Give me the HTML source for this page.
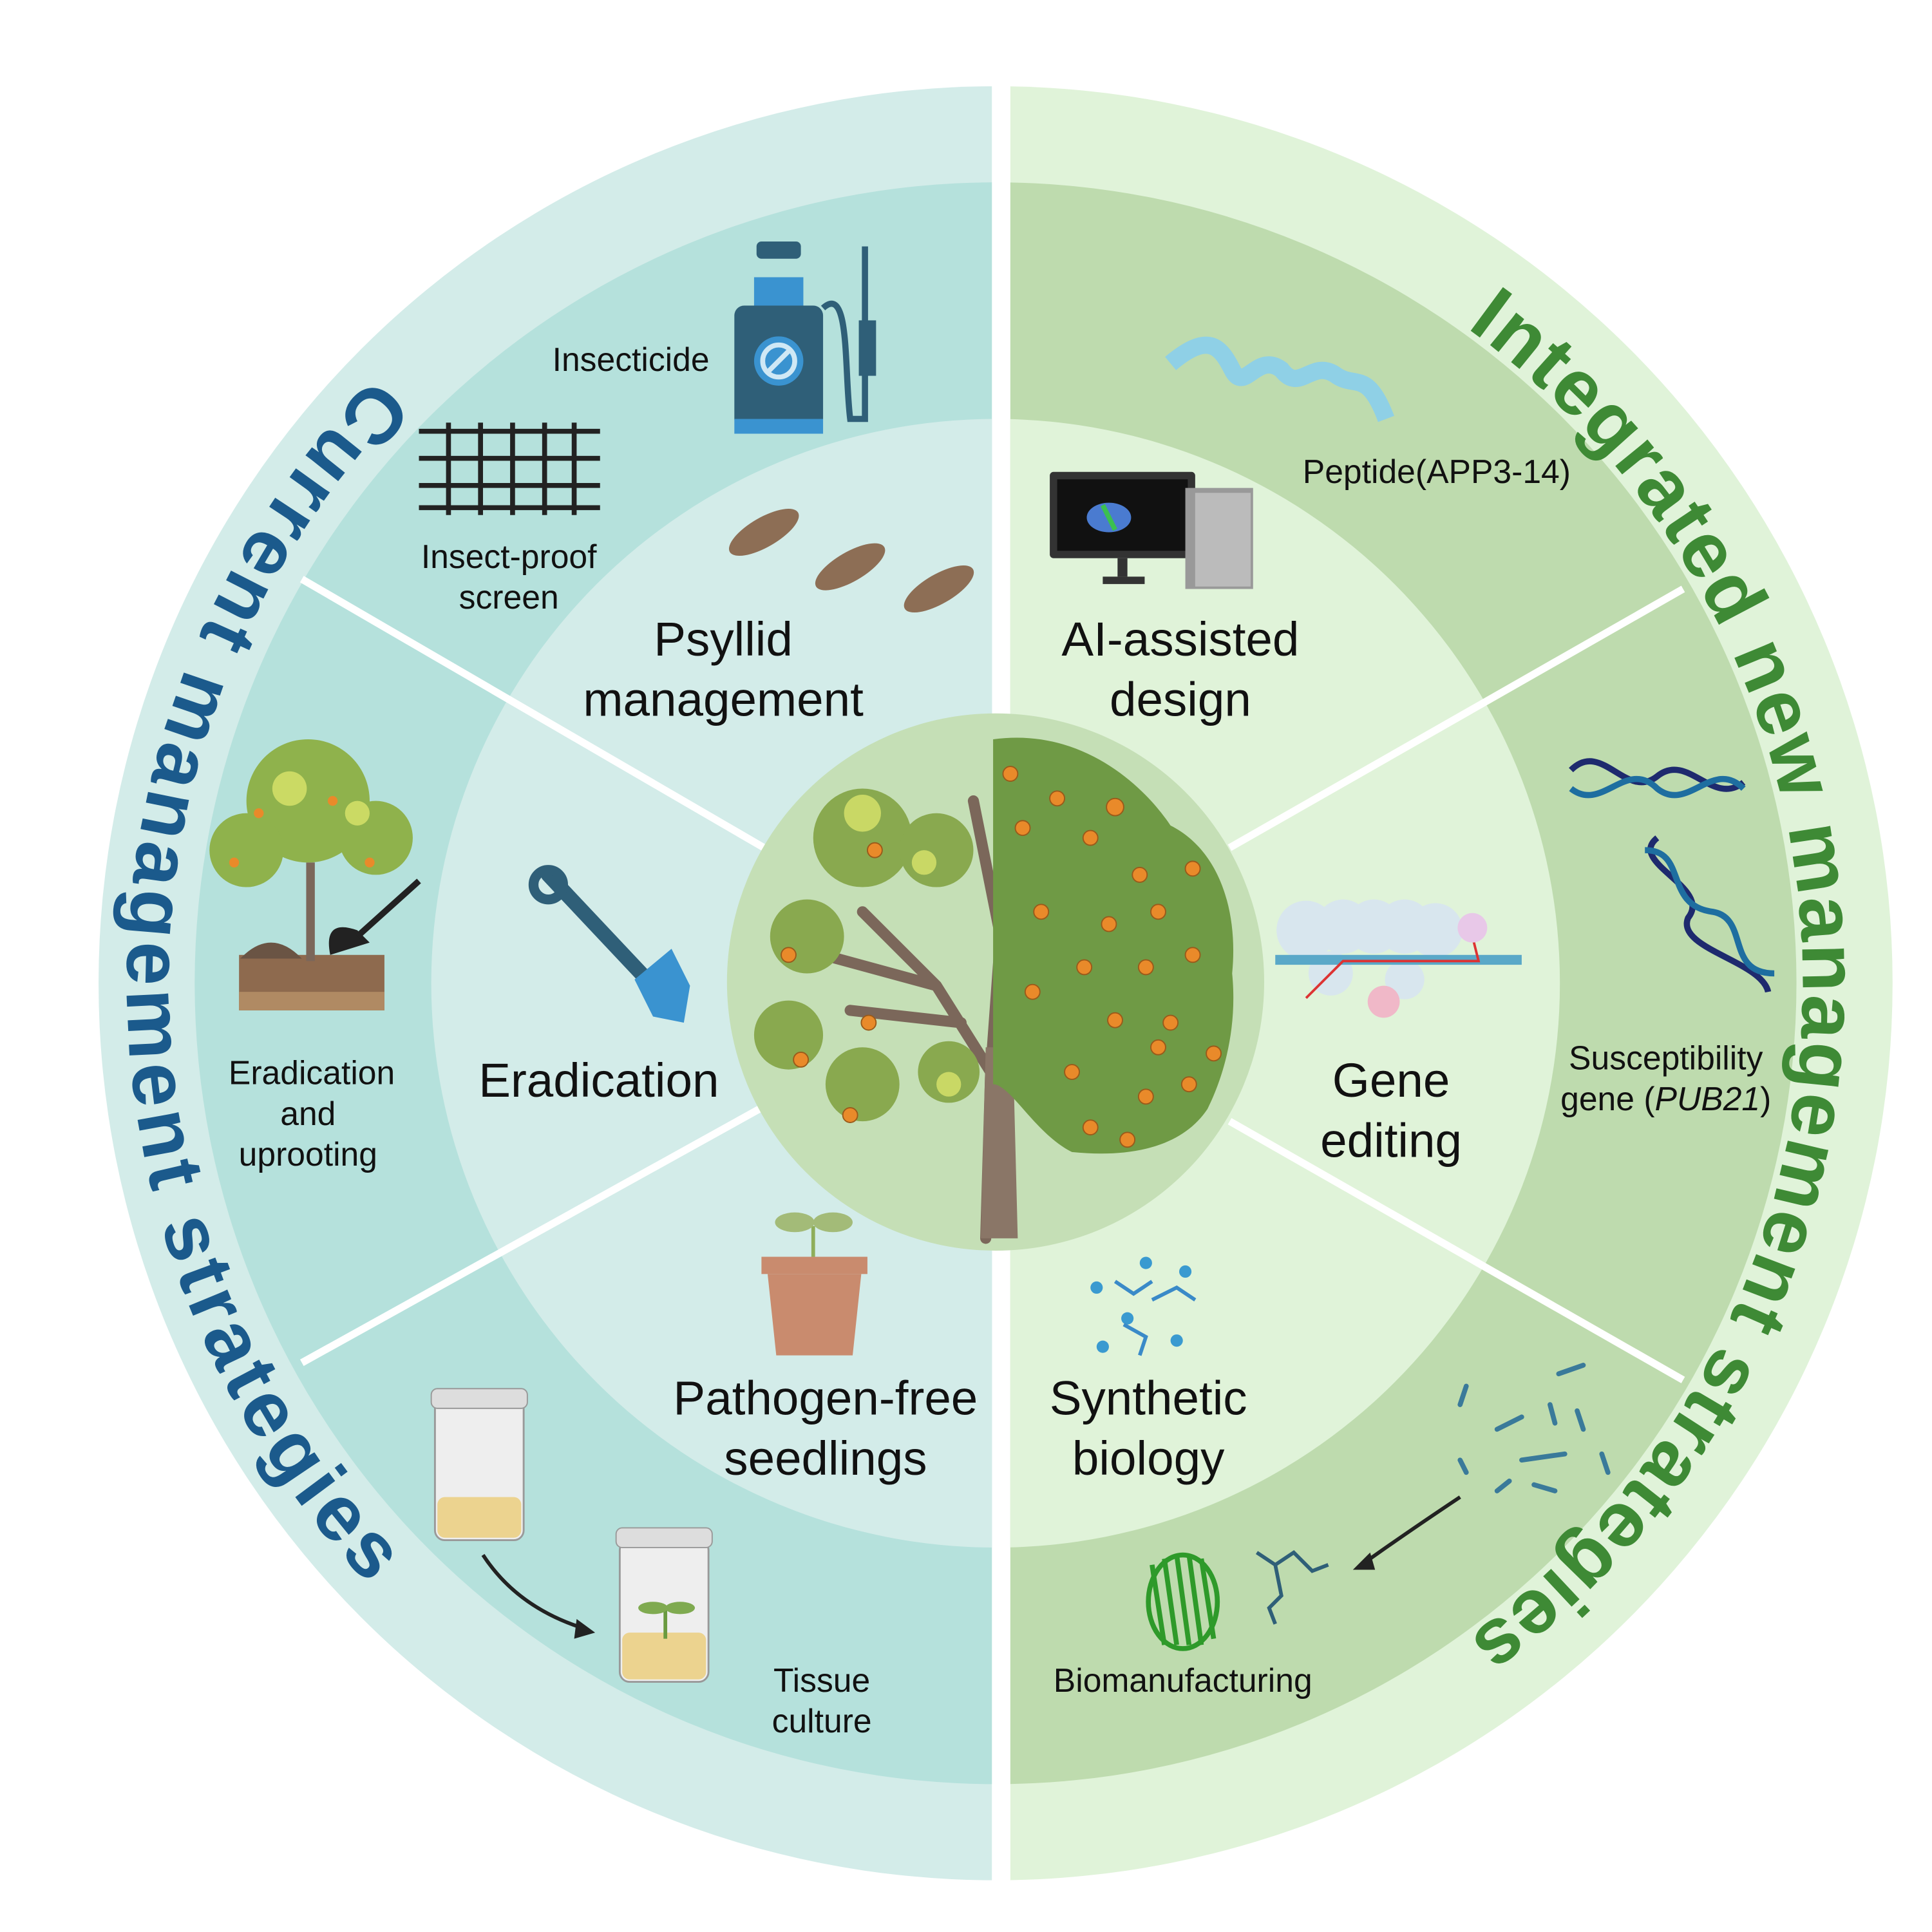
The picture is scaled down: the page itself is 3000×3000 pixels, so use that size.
<!DOCTYPE html>
<html><head><meta charset="utf-8"><style>
html,body{margin:0;padding:0;background:#fff}
svg{display:block}
text{font-family:"Liberation Sans",sans-serif}
</style></head><body>
<svg width="3000" height="3000" viewBox="0 0 1568 1568" xmlns="http://www.w3.org/2000/svg">
<defs>
<clipPath id="L"><rect x="0" y="0" width="805" height="1568"/></clipPath>
<clipPath id="R"><rect x="820" y="0" width="800" height="1568"/></clipPath>
<path id="lp" d="M309.5,299.5 A705,705 0 0 0 309.5,1296.5"/>
<path id="rp" d="M1183.7,261.4 A655,655 0 0 1 1183.7,1334.6"/>
</defs>
<rect width="1568" height="1568" fill="#fff"/>
<g clip-path="url(#L)">
<circle cx="808" cy="798" r="728" fill="#d3ece9"/>
<circle cx="808" cy="798" r="650" fill="#b5e1dc"/>
<circle cx="808" cy="798" r="458" fill="#d3ece9"/>
</g>
<g clip-path="url(#R)">
<circle cx="808" cy="798" r="728" fill="#e0f3d9"/>
<circle cx="808" cy="798" r="650" fill="#bedbae"/>
<circle cx="808" cy="798" r="458" fill="#e0f3d9"/>
</g>
<g stroke="#fff" stroke-width="6">
<line x1="245" y1="470" x2="620" y2="688"/>
<line x1="245" y1="1106" x2="620" y2="898"/>
<line x1="1366" y1="478" x2="998" y2="688"/>
<line x1="1366" y1="1120" x2="998" y2="910"/>
</g>
<circle cx="808" cy="797" r="218" fill="#c5dfb6"/>
<!-- tree -->
<g>
<path d="M800,1005 L804,870 L760,800 L700,740 M804,870 L812,760 L790,650 M812,760 L840,700 M780,830 L690,820 M760,800 L650,770" stroke="#7b675a" stroke-width="9" fill="none" stroke-linecap="round"/>
<path d="M796,1005 L800,850 L822,850 L826,1005 Z" fill="#8a7667"/>
<g fill="#89a94f">
<circle cx="700" cy="680" r="40"/><circle cx="655" cy="760" r="30"/><circle cx="640" cy="840" r="28"/><circle cx="700" cy="880" r="30"/><circle cx="760" cy="690" r="30"/><circle cx="770" cy="870" r="25"/>
</g>
<g fill="#d9e36a" opacity="0.8"><circle cx="700" cy="660" r="15"/><circle cx="770" cy="880" r="10"/><circle cx="750" cy="700" r="10"/></g>
<path d="M806,600 C880,590 930,640 950,670 C990,690 1005,740 1000,790 C1005,840 990,880 980,900 C960,930 920,940 870,935 C840,920 820,880 806,880 Z" fill="#6f9a45"/>
<g fill="#e98a2a" stroke="#9a5a1a" stroke-width="1">
<circle cx="820" cy="628" r="6"/><circle cx="858" cy="648" r="6"/><circle cx="905" cy="655" r="7"/><circle cx="885" cy="680" r="6"/><circle cx="830" cy="672" r="6"/><circle cx="968" cy="705" r="6"/><circle cx="925" cy="710" r="6"/><circle cx="845" cy="740" r="6"/><circle cx="900" cy="750" r="6"/><circle cx="940" cy="740" r="6"/><circle cx="968" cy="775" r="6"/><circle cx="880" cy="785" r="6"/><circle cx="838" cy="805" r="6"/><circle cx="930" cy="785" r="6"/><circle cx="950" cy="830" r="6"/><circle cx="985" cy="855" r="6"/><circle cx="940" cy="850" r="6"/><circle cx="905" cy="828" r="6"/><circle cx="870" cy="870" r="6"/><circle cx="965" cy="880" r="6"/><circle cx="930" cy="890" r="6"/><circle cx="885" cy="915" r="6"/><circle cx="915" cy="925" r="6"/><circle cx="710" cy="690" r="6"/><circle cx="640" cy="775" r="6"/><circle cx="705" cy="830" r="6"/><circle cx="650" cy="860" r="6"/><circle cx="690" cy="905" r="6"/>
</g>
</g>
<!-- left icons -->
<g>
<rect x="596" y="248" width="72" height="100" rx="8" fill="#2f5f78"/>
<rect x="612" y="225" width="40" height="23" fill="#3a93d0"/><rect x="614" y="196" width="36" height="14" rx="4" fill="#2f5f78"/>
<circle cx="632" cy="293" r="20" fill="#3a93d0"/><circle cx="632" cy="293" r="13" fill="none" stroke="#cfe8f5" stroke-width="4"/><line x1="623" y1="302" x2="641" y2="284" stroke="#cfe8f5" stroke-width="4"/>
<rect x="596" y="340" width="72" height="12" fill="#3a93d0"/>
<path d="M668,250 C690,230 685,300 690,340 L702,340 L702,200" stroke="#2f5f78" stroke-width="5" fill="none"/>
<rect x="697" y="260" width="14" height="45" fill="#2f5f78"/>
</g>
<g stroke="#222" stroke-width="4">
<line x1="340" y1="350" x2="487" y2="350"/><line x1="340" y1="372" x2="487" y2="372"/><line x1="340" y1="394" x2="487" y2="394"/><line x1="340" y1="412" x2="487" y2="412"/>
<line x1="364" y1="343" x2="364" y2="418"/><line x1="390" y1="343" x2="390" y2="418"/><line x1="416" y1="343" x2="416" y2="418"/><line x1="442" y1="343" x2="442" y2="418"/><line x1="466" y1="343" x2="466" y2="418"/>
</g>
<g fill="#8d6e55">
<ellipse cx="620" cy="432" rx="32" ry="12" transform="rotate(-30 620 432)"/>
<ellipse cx="690" cy="460" rx="32" ry="12" transform="rotate(-30 690 460)"/>
<ellipse cx="762" cy="478" rx="32" ry="12" transform="rotate(-30 762 478)"/>
</g>
<g>
<path d="M445,710 L525,795" stroke="#2f5f78" stroke-width="12" stroke-linecap="round"/>
<circle cx="445" cy="718" r="12" fill="none" stroke="#2f5f78" stroke-width="8"/>
<path d="M515,795 L545,770 L560,800 L555,830 L530,825 Z" fill="#3a93d0"/>
</g>
<g>
<rect x="194" y="775" width="118" height="45" fill="#8e6a4e"/><rect x="194" y="805" width="118" height="15" fill="#b08a63"/>
<path d="M195,778 Q220,752 245,778 Z" fill="#6a5444"/>
<path d="M252,780 L252,700" stroke="#7b675a" stroke-width="7"/>
<g fill="#8fb24c"><circle cx="250" cy="650" r="50"/><circle cx="200" cy="690" r="30"/><circle cx="305" cy="680" r="30"/></g>
<g fill="#d9e36a" opacity=".8"><circle cx="235" cy="640" r="14"/><circle cx="290" cy="660" r="10"/></g>
<g fill="#e98a2a"><circle cx="210" cy="660" r="4"/><circle cx="270" cy="650" r="4"/><circle cx="300" cy="700" r="4"/><circle cx="190" cy="700" r="4"/></g>
<path d="M268,775 Q262,745 290,755 L300,765 Z" fill="#222"/><path d="M290,760 L340,715" stroke="#222" stroke-width="5"/>
</g>
<g>
<rect x="618" y="1020" width="86" height="14" fill="#c98b6e"/>
<path d="M623,1034 L699,1034 L692,1100 L630,1100 Z" fill="#c98b6e"/>
<path d="M660,1020 L660,995" stroke="#8fae5a" stroke-width="3"/>
<ellipse cx="645" cy="992" rx="16" ry="8" fill="#a3bb78"/><ellipse cx="676" cy="992" rx="16" ry="8" fill="#a3bb78"/>
</g>
<g>
<rect x="353" y="1135" width="72" height="115" rx="8" fill="#eeeeee" stroke="#999" stroke-width="1.5"/>
<rect x="350" y="1127" width="78" height="16" rx="5" fill="#ddd" stroke="#999"/>
<rect x="355" y="1215" width="68" height="33" rx="6" fill="#ecd38f"/>
<rect x="503" y="1250" width="72" height="115" rx="8" fill="#eeeeee" stroke="#999" stroke-width="1.5"/>
<rect x="500" y="1240" width="78" height="16" rx="5" fill="#ddd" stroke="#999"/>
<rect x="505" y="1325" width="68" height="38" rx="6" fill="#ecd38f"/>
<path d="M540,1330 L540,1305" stroke="#6a9a40" stroke-width="3"/><ellipse cx="530" cy="1305" rx="12" ry="5" fill="#7faa50"/><ellipse cx="552" cy="1305" rx="12" ry="5" fill="#7faa50"/>
<path d="M392,1262 Q420,1305 475,1322" stroke="#222" stroke-width="3" fill="none"/><path d="M483,1325 L468,1314 L466,1330 Z" fill="#222"/>
</g>
<!-- right icons -->
<path d="M950,295 C980,270 990,280 1000,300 C1010,320 1020,285 1040,300 C1055,320 1065,290 1085,305 C1100,315 1110,300 1125,340" stroke="#8fd0e6" stroke-width="14" fill="none"/>
<g>
<rect x="852" y="383" width="118" height="70" rx="3" fill="#333"/><rect x="858" y="389" width="106" height="58" fill="#111"/>
<ellipse cx="900" cy="420" rx="18" ry="12" fill="#4a7bd0"/><path d="M895,410 L905,430" stroke="#3bc050" stroke-width="4"/>
<rect x="907" y="453" width="8" height="15" fill="#333"/><rect x="895" y="468" width="34" height="6" fill="#333"/>
<rect x="962" y="396" width="55" height="82" fill="#999"/><rect x="970" y="400" width="45" height="76" fill="#bbb"/>
</g>
<g fill="none" stroke-width="5">
<path d="M1275,625 C1300,600 1320,650 1345,630 C1370,610 1390,655 1415,635" stroke="#1e2a6e"/>
<path d="M1275,640 C1300,660 1320,615 1345,640 C1370,660 1390,615 1415,640" stroke="#1e6ea0"/>
<path d="M1345,680 C1320,700 1390,720 1370,745 C1360,770 1430,780 1435,805" stroke="#1e2a6e"/>
<path d="M1335,690 C1370,690 1350,735 1390,740 C1420,745 1400,790 1440,790" stroke="#1e6ea0"/>
</g>
<g>
<g fill="#d8e6ee"><circle cx="1060" cy="755" r="24"/><circle cx="1090" cy="752" r="22"/><circle cx="1115" cy="752" r="22"/><circle cx="1140" cy="752" r="22"/><circle cx="1165" cy="755" r="22"/><circle cx="1080" cy="790" r="18"/><circle cx="1140" cy="795" r="16"/></g>
<rect x="1035" y="775" width="200" height="8" fill="#5aa8c8"/>
<path d="M1060,810 L1090,780 L1200,780 L1195,760" stroke="#d33" stroke-width="2" fill="none"/>
<circle cx="1195" cy="753" r="12" fill="#e8c8e8"/><circle cx="1123" cy="813" r="13" fill="#f0b8c8"/>
</g>
<g fill="#3a9ad0"><circle cx="890" cy="1045" r="5"/><circle cx="930" cy="1025" r="5"/><circle cx="962" cy="1032" r="5"/><circle cx="895" cy="1093" r="5"/><circle cx="955" cy="1088" r="5"/><circle cx="915" cy="1070" r="5"/></g>
<path d="M905,1040 L920,1050 L935,1040 M935,1055 L955,1045 L970,1055 M912,1075 L930,1085 L925,1100" stroke="#3a8ac8" stroke-width="3" fill="none"/>
<g stroke="#3a7a9a" stroke-width="4" stroke-linecap="round">
<line x1="1185" y1="1140" x2="1190" y2="1125"/><line x1="1215" y1="1160" x2="1235" y2="1150"/><line x1="1258" y1="1140" x2="1262" y2="1155"/><line x1="1280" y1="1145" x2="1285" y2="1160"/><line x1="1265" y1="1115" x2="1285" y2="1108"/><line x1="1215" y1="1210" x2="1225" y2="1202"/><line x1="1245" y1="1205" x2="1262" y2="1210"/><line x1="1185" y1="1185" x2="1190" y2="1195"/><line x1="1300" y1="1180" x2="1305" y2="1195"/><line x1="1235" y1="1185" x2="1270" y2="1180"/>
</g>
<path d="M1185,1215 Q1140,1245 1105,1270" stroke="#222" stroke-width="3" fill="none"/><path d="M1098,1274 L1112,1260 L1116,1274 Z" fill="#222"/>
<g fill="none" stroke="#2e9a2a" stroke-width="4">
<path d="M935,1270 L945,1335 M945,1265 L955,1335 M955,1262 L965,1335 M965,1262 L975,1335 M975,1265 L985,1330"/>
<ellipse cx="960" cy="1300" rx="28" ry="38"/>
</g>
<path d="M1020,1260 L1035,1270 L1050,1260 L1065,1275 L1078,1270 M1035,1270 L1040,1295 L1030,1305 L1035,1318" stroke="#2f5f78" stroke-width="3" fill="none"/>
<!-- labels -->
<g font-size="27" fill="#111" text-anchor="middle">
<text x="512" y="301">Insecticide</text>
<text x="413" y="461">Insect-proof</text><text x="413" y="494">screen</text>
<text x="253" y="880">Eradication</text><text x="250" y="913">and</text><text x="250" y="946">uprooting</text>
<text x="667" y="1373">Tissue</text><text x="667" y="1406">culture</text>
<text x="1166" y="392">Peptide(APP3-14)</text>
<text x="1352" y="868">Susceptibility</text><text x="1352" y="901">gene (<tspan font-style="italic">PUB21</tspan>)</text>
<text x="960" y="1373">Biomanufacturing</text>
</g>
<g font-size="39" fill="#111" text-anchor="middle">
<text x="587" y="532">Psyllid</text><text x="587" y="581">management</text>
<text x="486" y="890">Eradication</text>
<text x="670" y="1148">Pathogen-free</text><text x="670" y="1197">seedlings</text>
<text x="958" y="532">AI-assisted</text><text x="958" y="581">design</text>
<text x="1129" y="890">Gene</text><text x="1129" y="939">editing</text>
<text x="932" y="1148">Synthetic</text><text x="932" y="1197">biology</text>
</g>
<text font-size="64" font-weight="bold" fill="#1b5a8c"><textPath href="#lp" startOffset="8" textLength="1085" lengthAdjust="spacing">Current  management  strategies</textPath></text>
<text font-size="64" font-weight="bold" fill="#3e8a35"><textPath href="#rp" startOffset="8" textLength="1240" lengthAdjust="spacing">Integrated new management strategies</textPath></text>
</svg>
</body></html>
